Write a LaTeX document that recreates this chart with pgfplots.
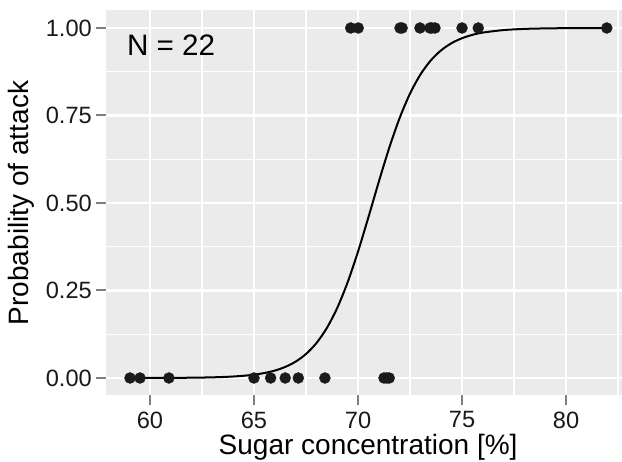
\documentclass[border=0pt]{standalone}
\usepackage{fontspec}
\setmainfont{Liberation Sans}
\usepackage{pgfplots}
\pgfplotsset{compat=1.18}
\definecolor{panel}{HTML}{EBEBEB}
\definecolor{tickgrey}{HTML}{7F7F7F}
\definecolor{pt}{HTML}{1A1A1A}
\begin{document}
\begin{tikzpicture}
\begin{axis}[
    scale only axis,
    width=515.7pt, height=385pt,
    xmin=57.9, xmax=82.69,
    ymin=-0.05, ymax=1.05,
    axis background/.style={fill=panel},
    axis line style={draw=none},
    xtick={60,65,70,75,80},
    ytick={0,0.25,0.5,0.75,1},
    minor xtick={62.5,67.5,72.5,77.5,82.5},
    minor ytick={0.125,0.375,0.625,0.875},
    xtick pos=bottom, ytick pos=left,
    grid=both,
    major grid style={white, line width=2.6pt},
    minor grid style={white, line width=1.3pt},
    tick align=outside,
    major tick length=10pt,
    minor tick length=0pt,
    every tick/.style={tickgrey, line width=2pt},
    tick label style={font=\fontsize{23.6}{28}\selectfont, text=black!90},
    /pgf/number format/assume math mode=true,
    yticklabel style={/pgf/number format/.cd, fixed, fixed zerofill, precision=2},
    xticklabel style={inner sep=0pt, /pgf/number format/.cd, fixed, precision=0},
    xticklabel shift=6pt,
    yticklabel shift=1pt,
    label style={font=\fontsize{28}{32}\selectfont, inner sep=0pt},
    xlabel={Sugar concentration [\%]},
    ylabel={Probability of attack},
    xlabel style={at={(axis description cs:0.5,0)}, anchor=base, yshift=-59.5pt, xshift=4pt},
    ylabel style={at={(axis description cs:0,0.5)}, anchor=base, yshift=77.3pt},
    clip=false,
]
% fitted logistic curve
\addplot[black, line width=2pt, smooth] coordinates {
(59.04,0.0000746) (59.5,0.000109) (60,0.000163) (60.5,0.000245) (61,0.000368)
(61.5,0.000554) (62,0.000832) (62.5,0.00125) (63,0.00188) (63.5,0.00282)
(64,0.00423) (64.5,0.00635) (65,0.00951) (65.5,0.01423) (66,0.0212)
(66.5,0.0316) (67,0.0467) (67.5,0.0686) (68,0.0997) (68.5,0.1427)
(69,0.2001) (69.5,0.2733) (70,0.3611) (70.5,0.4593) (71,0.5608)
(71.5,0.6574) (72,0.7426) (72.5,0.8126) (73,0.8670) (73.5,0.9074)
(74,0.9364) (74.5,0.9568) (75,0.9708) (75.5,0.9804) (76,0.9869)
(77,0.9941) (78,0.9974) (79,0.99885) (80,0.99949) (81,0.99977) (81.96,0.99990)
};
% observations
\addplot[only marks, mark=*, mark size=5.5pt, mark options={fill=pt, draw=pt}] coordinates {
(59.04,0) (59.52,0) (60.91,0) (65.0,0) (65.8,0) (66.5,0) (67.13,0) (68.41,0)
(71.25,0) (71.5,0) (71.38,0)
(69.65,1) (70.01,1) (72.02,1) (72.12,1) (72.98,1) (73.46,1) (73.70,1)
(75.0,1) (75.78,1) (81.96,1) (73.55,1)
};
\node[anchor=west, inner sep=0pt, font=\fontsize{29.6}{34}\selectfont] at (axis cs:58.89,0.951) {N = 22};
\end{axis}
\pgfresetboundingbox
\useasboundingbox ([xshift=-106.3pt,yshift=-66.5pt]current axis.south west) rectangle ([yshift=10.5pt]current axis.north east);
\end{tikzpicture}
\end{document}
